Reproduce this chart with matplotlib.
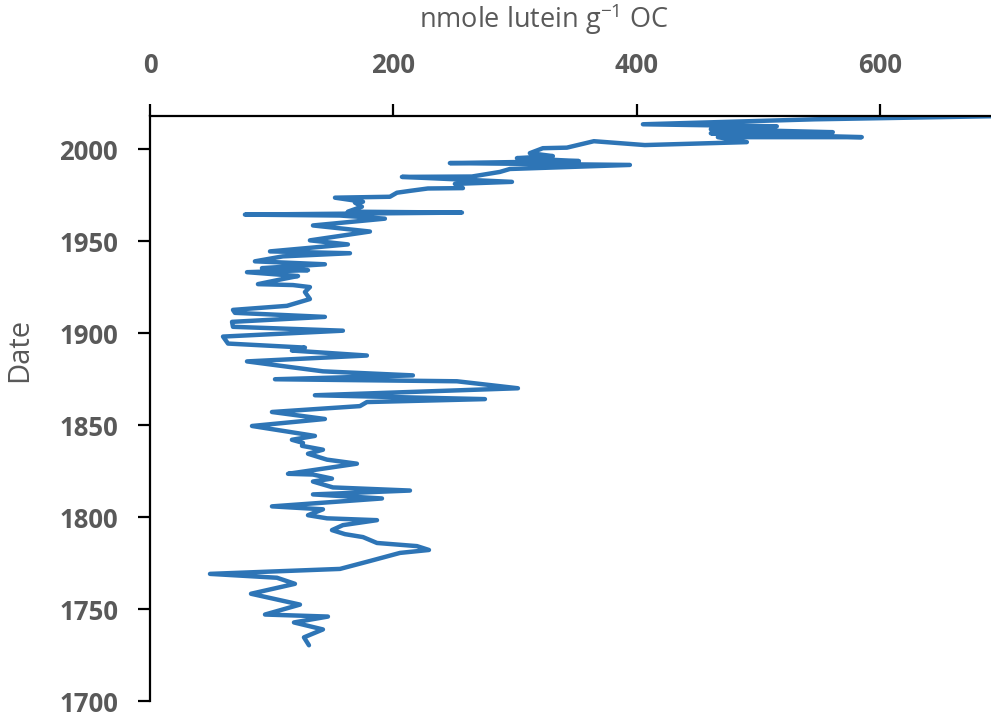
import matplotlib.pyplot as plt

plt.rcParams['font.family'] = ['Open Sans', 'DejaVu Sans']
plt.rcParams['mathtext.default'] = 'regular'

# lutein concentration (nmole g-1 OC) against core date, oldest sample first
lutein = [130.6, 126.5, 142.1, 118.3, 146.2, 94.5, 123.2, 83.0, 119.1, 104.3,
          49.3, 156.1, 180.7, 205.4, 229.2, 219.3, 186.5, 175.0, 160.2, 149.5,
          158.5, 186.5, 145.4, 129.8, 142.1, 129.0, 100.2, 190.6, 133.9, 213.6,
          150.3, 133.9, 149.5, 133.9, 113.4, 170.0, 145.4, 129.8, 142.1, 124.9,
          125.7, 116.6, 135.5, 83.8, 143.7, 100.2, 172.5, 178.2, 275.2, 135.5,
          302.3, 252.2, 102.7, 216.0, 142.1, 79.7, 178.2, 129.0, 116.6, 127.3,
          64.1, 60.0, 158.5, 68.2, 67.4, 143.7, 69.8, 68.2, 112.5, 131.4,
          127.3, 131.4, 117.5, 88.7, 109.2, 121.6, 79.7, 129.8, 92.0, 143.7,
          86.2, 109.2, 164.3, 98.6, 162.6, 131.4, 180.7, 133.9, 193.0, 156.1,
          78.0, 256.3, 162.6, 174.1, 168.4, 175.0, 152.0, 197.1, 202.9, 213.6,
          228.3, 257.1, 250.5, 297.4, 207.0, 264.5, 287.5, 295.7, 394.3, 246.4,
          352.4, 301.5, 331.0, 312.1, 322.8, 342.5, 364.7, 406.6, 490.4, 466.6,
          584.8, 460.8, 561.0, 460.8, 515.0, 405.0, 546.2, 720.0]
date = [1730.3, 1734.6, 1738.9, 1742.7, 1745.9, 1747.0, 1752.4, 1758.3, 1763.7, 1767.0,
        1769.1, 1771.8, 1776.1, 1780.5, 1782.1, 1784.2, 1785.9, 1789.1, 1790.7, 1792.9,
        1795.6, 1798.3, 1799.3, 1801.0, 1804.2, 1804.7, 1805.8, 1810.1, 1812.3, 1814.4,
        1816.1, 1819.3, 1820.9, 1823.1, 1823.5, 1829.0, 1831.2, 1834.4, 1836.6, 1838.7,
        1840.3, 1842.0, 1844.1, 1849.5, 1853.3, 1857.1, 1860.3, 1862.5, 1864.1, 1866.2,
        1870.0, 1873.8, 1874.9, 1877.0, 1879.2, 1884.6, 1887.8, 1890.0, 1890.5, 1892.1,
        1894.3, 1898.1, 1901.3, 1903.4, 1906.1, 1908.8, 1911.0, 1912.6, 1914.8, 1918.5,
        1922.3, 1925.0, 1926.1, 1926.6, 1929.4, 1931.0, 1933.1, 1934.2, 1935.3, 1937.4,
        1939.0, 1941.7, 1943.4, 1944.4, 1948.2, 1950.4, 1955.2, 1958.5, 1962.2, 1963.9,
        1964.4, 1965.5, 1966.0, 1968.7, 1970.9, 1971.4, 1973.6, 1974.1, 1976.3, 1977.3,
        1978.6, 1978.8, 1981.1, 1982.2, 1984.9, 1985.1, 1987.6, 1989.2, 1991.4, 1992.4,
        1993.5, 1995.1, 1996.2, 1997.8, 2000.5, 2000.8, 2004.3, 2002.2, 2003.8, 2006.5,
        2006.5, 2008.6, 2009.2, 2010.8, 2012.4, 2013.5, 2016.2, 2018.2]

x_ticks = [0, 200, 400, 600]
y_ticks = [1700, 1750, 1800, 1850, 1900, 1950, 2000]

grey = '#595959'

fig = plt.figure(figsize=(9.91, 7.17), dpi=100)
ax = fig.add_axes([150/991, 16/717, 841/991, 585/717])
ax.plot(lutein, date, color='#2E75B6', lw=3.2, solid_joinstyle='round', solid_capstyle='round')

ax.set_xlim(0, 691)
ax.set_ylim(1700, 2018)
ax.set_xticks(x_ticks)
ax.set_yticks(y_ticks)

ax.xaxis.set_ticks_position('top')
ax.xaxis.set_label_position('top')
ax.spines['right'].set_visible(False)
ax.spines['bottom'].set_visible(False)
for s in ['top', 'left']:
    ax.spines[s].set_linewidth(1.6)
ax.tick_params(direction='out', length=9, width=1.6, colors='black', labelcolor=grey,
               labelsize=18.5, pad=14)
ax.tick_params(axis='x', pad=18)
for lab in ax.get_xticklabels() + ax.get_yticklabels():
    lab.set_fontweight('bold')

ax.set_xlabel('nmole lutein g$^{-1}$ OC', fontsize=19.5, color=grey)
ax.xaxis.set_label_coords(0.468, 1.15)
ax.set_ylabel('Date', fontsize=21, color=grey)
ax.yaxis.set_label_coords(-0.138, 0.60)

fig.savefig('out.png', dpi=100)
